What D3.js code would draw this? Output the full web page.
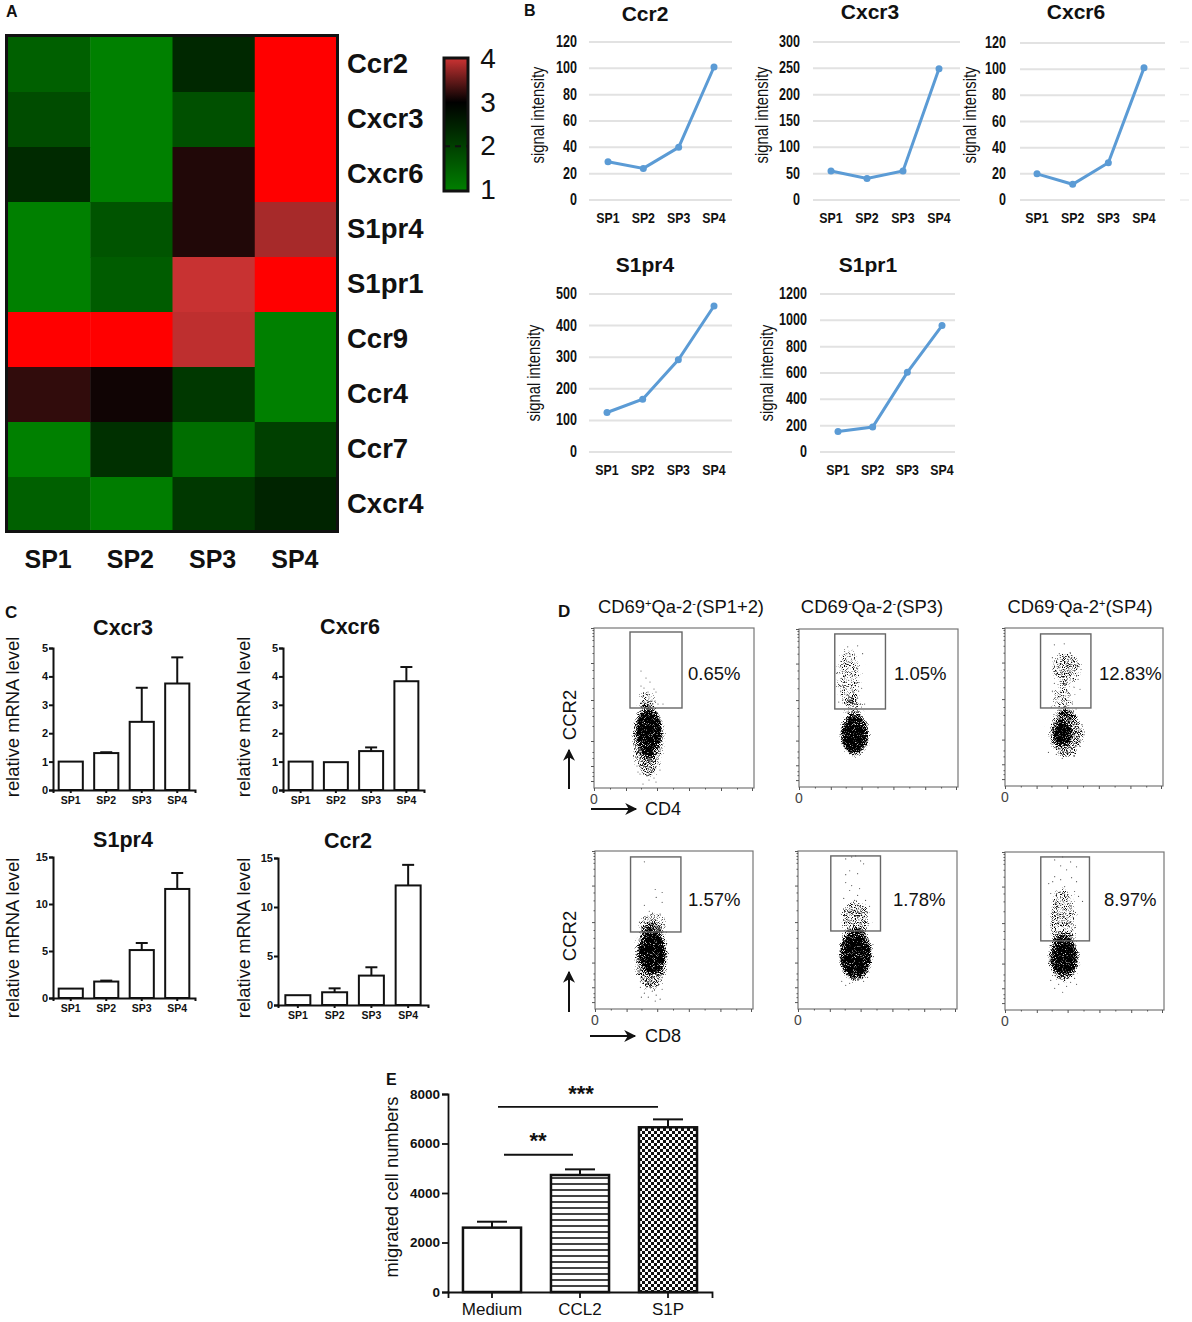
<!DOCTYPE html>
<html>
<head>
<meta charset="utf-8">
<script src="https://cdn.jsdelivr.net/npm/d3@7"></script>
<style>
  html, body { margin: 0; padding: 0; background: #fff; }
  text { font-family: "Liberation Sans", Arial, sans-serif; fill: #111; }
</style>
</head>
<body>
<svg id="fig" width="1192" height="1322"></svg>
<script>
var stages = ["SP1", "SP2", "SP3", "SP4"]

// A: heatmap, legend units, 5 = off the scale (pure red)
var heatGenes = ["Ccr2", "Cxcr3", "Cxcr6", "S1pr4", "S1pr1", "Ccr9", "Ccr4", "Ccr7", "Cxcr4"]
var heatCcr2 = [1.5, 1, 2.38, 5]
var heatCxcr3 = [1.81, 1, 1.75, 5]
var heatCxcr6 = [2.34, 1, 3.16, 5]
var heatS1pr4 = [1, 1.69, 3.16, 3.82]
var heatS1pr1 = [1, 1.56, 3.98, 5]
var heatCcr9 = [5, 5, 3.93, 1]
var heatCcr4 = [3.24, 3.08, 2.13, 1]
var heatCcr7 = [1, 2.25, 1.28, 2]
var heatCxcr4 = [1.5, 1.05, 2.13, 2.44]
var heatRows = [heatCcr2, heatCxcr3, heatCxcr6, heatS1pr4, heatS1pr1, heatCcr9, heatCcr4, heatCcr7, heatCxcr4]
var legendTicks = [1, 2, 3, 4]

// B: signal intensity
var signalCcr2 = [29, 24, 40, 101]
var signalCxcr3 = [55, 41, 55, 249]
var signalCxcr6 = [20, 12, 28.5, 101]
var signalS1pr4 = [125, 167, 292, 462]
var signalS1pr1 = [155, 190, 605, 960]
var ticks120 = [0, 20, 40, 60, 80, 100, 120]
var ticks300 = [0, 50, 100, 150, 200, 250, 300]
var ticks500 = [0, 100, 200, 300, 400, 500]
var ticks1200 = [0, 200, 400, 600, 800, 1000, 1200]

// C: relative mRNA, mean and top of error bar
var qpcrCxcr3 = [1, 1.3, 2.4, 3.75]
var qpcrCxcr3Err = [1, 1.33, 3.6, 4.67]
var qpcrCxcr6 = [1, 0.98, 1.37, 3.83]
var qpcrCxcr6Err = [1, 0.98, 1.5, 4.33]
var qpcrS1pr4 = [1, 1.75, 5.1, 11.6]
var qpcrS1pr4Err = [1, 1.85, 5.85, 13.3]
var qpcrCcr2 = [1, 1.3, 3, 12.2]
var qpcrCcr2Err = [1, 1.7, 3.85, 14.3]

// D: flow plots, axis channels 0-160. clouds = [x, y, rx, ry, density], events = [x, y]
var facsXTicks = [0, 32, 63, 95, 127, 158]
var facsXMinor = [16, 47, 79, 111, 143]
var facsYTicks = [7, 22, 47, 88, 125, 160]
var facsYMinor = [12, 16, 30, 36, 62, 72, 80, 100, 110, 118, 135, 142, 148, 152, 155, 158]
var cloudsP1 = [[54, 48, 16, 38, 0.58], [55, 58, 13, 19, 1], [54, 42, 8, 13, 1], [52, 88, 9, 9, 0.47]]
var cloudsP2 = [[56, 53, 15, 22, 0.75], [56, 53, 13, 16, 1], [55, 80, 9, 12, 0.48], [50, 112, 13, 30, 0.45]]
var cloudsP3 = [[62, 53, 18, 24, 0.58], [58, 53, 9, 13, 1], [62, 119, 15, 16, 0.52], [59, 88, 10, 16, 0.48], [62, 72, 10, 6, 0.5]]
var cloudsP4 = [[57, 53, 17, 34, 0.6], [58, 57, 13, 21, 1], [58, 86, 15, 12, 0.5]]
var cloudsP5 = [[58, 55, 17, 27, 0.82], [58, 52, 14, 18, 1], [58, 62, 14, 10, 1], [58, 92, 15, 18, 0.54]]
var cloudsP6 = [[59, 53, 16, 24, 0.72], [60, 53, 12, 16, 1], [58, 92, 14, 32, 0.5]]
var eventsP1 = [[47, 117], [52, 110], [56, 106], [47, 102], [50, 100], [60, 99], [54, 96], [62, 96], [49, 92], [55, 90], [58, 88], [50, 86], [53, 84], [57, 83], [48, 85], [64, 84], [69, 84], [61, 87], [43, 22], [46, 14], [50, 18], [53, 12], [55, 8], [58, 16], [60, 20], [62, 6], [49, 4], [66, 18], [44, 16], [54, 20], [60, 10]]
var eventsP2 = [[49, 142], [59, 143], [64, 135], [48, 135], [42, 122], [45, 125], [50, 127], [49, 120], [55, 122], [59, 120], [44, 117], [47, 116], [52, 114], [57, 118], [43, 110], [46, 112], [50, 108], [53, 106], [40, 104], [44, 103], [48, 102], [52, 100], [58, 105], [54, 97], [60, 97], [42, 97], [46, 94], [50, 92], [56, 92], [59, 90], [44, 88], [48, 86], [53, 86], [57, 84], [62, 84], [66, 84], [40, 86], [38, 115], [63, 100]]
var eventsP3 = [[50, 143], [60, 144], [66, 135], [48, 130], [55, 134], [64, 128], [72, 122], [77, 118], [74, 108], [50, 104], [56, 106], [62, 104], [70, 100], [76, 98], [48, 96], [66, 92], [68, 84], [72, 78], [47, 80], [62, 30], [70, 30], [58, 28], [52, 32], [63, 38], [76, 44], [80, 52], [78, 62], [44, 34]]
var eventsP4 = [[50, 149], [61, 121], [68, 118], [62, 113], [68, 108], [50, 105], [55, 99], [66, 96], [45, 88], [72, 78], [46, 22], [50, 16], [54, 12], [58, 18], [62, 14], [66, 10], [68, 20], [47, 12], [61, 8], [56, 22], [64, 24], [46, 28]]
var eventsP5 = [[48, 152], [54, 154], [58, 155], [63, 150], [52, 140], [48, 136], [60, 137], [66, 147], [48, 128], [54, 125], [60, 115], [52, 120], [62, 122], [46, 112], [57, 110], [68, 110], [52, 102], [62, 104], [72, 104], [44, 28], [52, 26], [60, 30], [66, 28], [70, 32], [48, 24]]
var eventsP6 = [[50, 152], [58, 155], [66, 150], [72, 145], [56, 146], [62, 142], [50, 135], [67, 134], [72, 130], [48, 130], [56, 132], [44, 128], [60, 125], [70, 120], [74, 115], [52, 118], [46, 118], [78, 110], [50, 22], [54, 26], [58, 18], [62, 24], [66, 28], [46, 30], [70, 32], [72, 26]]

// E: migration assay
var assayGroups = ["Medium", "CCL2", "S1P"]
var assayMeans = [2600, 4727, 6655]
var assayErrTops = [2840, 4955, 6975]
var assayTicks = [0, 2000, 4000, 6000, 8000]
var assaySigLevels = [7480, 5545]

var svg = d3.select("#fig")
var defs = svg.append("defs")

// fine grain used for the flow cytometry clouds
var stip = defs.append("filter").attr("id", "stipple")
    .attr("filterUnits", "userSpaceOnUse")
    .attr("x", 0).attr("y", 0).attr("width", 1192).attr("height", 1322)
    .attr("color-interpolation-filters", "sRGB")
stip.append("feGaussianBlur").attr("in", "SourceAlpha").attr("stdDeviation", 2.2).attr("result", "d")
stip.append("feTurbulence").attr("type", "fractalNoise").attr("baseFrequency", 1.1)
    .attr("numOctaves", 1).attr("seed", 7).attr("result", "t")
stip.append("feColorMatrix").attr("in", "t").attr("type", "matrix")
    .attr("values", "0 0 0 0 0  0 0 0 0 0  0 0 0 0 0  1.8 0 0 0 -0.4").attr("result", "n")
stip.append("feComposite").attr("in", "d").attr("in2", "n").attr("operator", "arithmetic")
    .attr("k1", 0).attr("k2", 1).attr("k3", 1).attr("k4", -1).attr("result", "s")
stip.append("feComponentTransfer").attr("in", "s").attr("result", "c")
    .append("feFuncA").attr("type", "linear").attr("slope", 3)
stip.append("feGaussianBlur").attr("in", "c").attr("stdDeviation", 0.35)

var stripes = defs.append("pattern").attr("id", "stripes").attr("patternUnits", "userSpaceOnUse")
    .attr("width", 6).attr("height", 6)
stripes.append("rect").attr("width", 6).attr("height", 6).attr("fill", "#fff")
stripes.append("rect").attr("y", 1).attr("width", 6).attr("height", 2).attr("fill", "#444")

var checks = defs.append("pattern").attr("id", "checks").attr("patternUnits", "userSpaceOnUse")
    .attr("width", 6).attr("height", 6)
checks.append("rect").attr("width", 6).attr("height", 6).attr("fill", "#111")
checks.append("rect").attr("width", 3).attr("height", 3).attr("fill", "#fff")
checks.append("rect").attr("x", 3).attr("y", 3).attr("width", 3).attr("height", 3).attr("fill", "#fff")

defs.append("marker").attr("id", "head").attr("viewBox", "0 0 10 10")
    .attr("refX", 9).attr("refY", 5).attr("markerWidth", 7).attr("markerHeight", 6)
    .attr("markerUnits", "strokeWidth").attr("orient", "auto")
  .append("path").attr("d", "M0,0L10,5L0,10L3,5Z").attr("fill", "#111")

function label(x, y, txt, size, weight, anchor) {
    return svg.append("text").attr("x", x).attr("y", y).text(txt)
        .style("font-size", size + "px").style("font-weight", weight || "normal")
        .attr("text-anchor", anchor || "middle")
}

function rotated(x, y, txt, size) {
    return svg.append("text").attr("transform", "translate(" + x + "," + y + ") rotate(-90)")
        .attr("text-anchor", "middle")
        .style("font-size", size + "px").text(txt)
}

// panel B text is horizontally condensed in the figure
function squeeze(sel, k) {
    sel.each(function() {
        d3.select(this).attr("textLength", this.getComputedTextLength() * k)
            .attr("lengthAdjust", "spacingAndGlyphs")
    })
    return sel
}

// panel letters
label(6, 17, "A", 16, "bold", "start")
label(524, 16, "B", 16, "bold", "start")
label(5, 618, "C", 17, "bold", "start")
label(558, 617, "D", 17, "bold", "start")
label(386, 1085, "E", 16, "bold", "start")

// ---- A
var heatX = d3.scaleBand().domain(stages).range([8, 337])
var heatY = d3.scaleBand().domain(heatGenes).range([37, 532])
var heatColor = d3.scaleLinear().domain([1, 3, 4, 4.01])
    .range(["#008000", "#000000", "#cc3333", "#ff0000"]).clamp(true)

heatRows.forEach(function(row, i) {
    svg.append("g").selectAll("rect").data(row).enter().append("rect")
        .attr("x", function(d, j) { return heatX(stages[j]) })
        .attr("y", heatY(heatGenes[i]))
        .attr("width", heatX.bandwidth() + 0.5)
        .attr("height", heatY.bandwidth() + 0.5)
        .attr("fill", function(d) { return heatColor(d) })
})
svg.append("rect").attr("x", 6.5).attr("y", 35.5).attr("width", 331).attr("height", 496)
    .attr("fill", "none").attr("stroke", "#111").attr("stroke-width", 3)

heatGenes.forEach(function(g) {
    label(347, heatY(g) + heatY.bandwidth() / 2 + 8.5, g, 27.5, "bold", "start")
})
stages.forEach(function(s) {
    label(heatX(s) + heatX.bandwidth() / 2 - 1, 568, s, 25, "bold")
})

var legendY = d3.scaleLinear().domain([1, 4]).range([190, 59])
var legendGrad = defs.append("linearGradient").attr("id", "legendGrad")
    .attr("x1", 0).attr("x2", 0).attr("y1", 1).attr("y2", 0)
legendTicks.concat([3.5]).sort().forEach(function(v) {
    legendGrad.append("stop").attr("offset", (v - 1) / 3).attr("stop-color", heatColor(v))
})
svg.append("rect").attr("x", 444).attr("y", legendY(4) - 1).attr("width", 24).attr("height", legendY(1) - legendY(4) + 2)
    .attr("fill", "url(#legendGrad)").attr("stroke", "#111").attr("stroke-width", 3)
svg.append("line").attr("x1", 444).attr("x2", 468).attr("y1", legendY(2)).attr("y2", legendY(2))
    .attr("stroke", "#111").attr("stroke-width", 2).attr("stroke-dasharray", "6,5")
legendTicks.forEach(function(t) {
    label(488, legendY(t) + 9, t, 28)
})

// ---- B
function linePanel(opt) {
    var x = d3.scalePoint().domain(stages).range(opt.xs)
    var y = d3.scaleLinear().domain([0, d3.max(opt.ticks)]).range(opt.ys)
    var g = svg.append("g")
    g.selectAll("line").data(opt.ticks).enter().append("line")
        .attr("x1", opt.grid[0]).attr("x2", opt.grid[1])
        .attr("y1", function(d) { return y(d) }).attr("y2", function(d) { return y(d) })
        .attr("stroke", "#e2e2e2").attr("stroke-width", 2)
    var tl = g.selectAll("text.t").data(opt.ticks).enter().append("text")
        .attr("x", opt.tickX).attr("y", function(d) { return y(d) + 5 })
        .attr("text-anchor", "end").style("font-size", "16.5px").style("font-weight", "bold")
        .text(function(d) { return d })
    squeeze(tl, 0.76)
    var line = d3.line().x(function(d, i) { return x(stages[i]) }).y(function(d) { return y(d) })
    g.append("path").attr("d", line(opt.values)).attr("fill", "none")
        .attr("stroke", "#5b9bd5").attr("stroke-width", 3)
    g.selectAll("circle").data(opt.values).enter().append("circle")
        .attr("cx", function(d, i) { return x(stages[i]) }).attr("cy", function(d) { return y(d) })
        .attr("r", 3.5).attr("fill", "#5b9bd5")
    stages.forEach(function(s) {
        squeeze(label(x(s), opt.ys[0] + 23, s, 14, "bold"), 0.88)
    })
    label(opt.titleX, opt.titleY, opt.title, 21, "bold")
    squeeze(rotated(opt.labelX, opt.labelY, "signal intensity", 18), 0.82)
}

linePanel({ title: "Ccr2", values: signalCcr2, ticks: ticks120, xs: [608, 714], ys: [200, 42], grid: [589, 732], tickX: 577, titleX: 645, titleY: 21, labelX: 544, labelY: 115 })
linePanel({ title: "Cxcr3", values: signalCxcr3, ticks: ticks300, xs: [831, 939], ys: [200, 42], grid: [813, 960], tickX: 800, titleX: 870, titleY: 19, labelX: 768, labelY: 115 })
linePanel({ title: "Cxcr6", values: signalCxcr6, ticks: ticks120, xs: [1037, 1144], ys: [200, 43], grid: [1020, 1165], tickX: 1006, titleX: 1076, titleY: 19, labelX: 976, labelY: 115 })
linePanel({ title: "S1pr4", values: signalS1pr4, ticks: ticks500, xs: [607, 714], ys: [452, 294], grid: [589, 732], tickX: 577, titleX: 645, titleY: 272, labelX: 540, labelY: 373 })
linePanel({ title: "S1pr1", values: signalS1pr1, ticks: ticks1200, xs: [838, 942], ys: [452, 294], grid: [820, 955], tickX: 807, titleX: 868, titleY: 272, labelX: 773, labelY: 373 })

// cut off gridlines of the neighbouring figure at the right edge
var stubY = d3.scaleLinear().domain([0, 120]).range([200, 42])
svg.append("g").selectAll("line").data(ticks120).enter().append("line")
    .attr("x1", 1180).attr("x2", 1189)
    .attr("y1", function(d) { return stubY(d) }).attr("y2", function(d) { return stubY(d) })
    .attr("stroke", "#ececec").attr("stroke-width", 1.5)

// ---- C
function barPanel(opt) {
    var x = d3.scaleBand().domain(stages).range(opt.xs).paddingInner(0.32).paddingOuter(opt.outer)
    var y = d3.scaleLinear().domain([0, opt.max]).range(opt.ys)
    var g = svg.append("g")
    var yAxis = d3.axisLeft(y).tickValues(opt.ticks).tickSize(4).tickPadding(1).tickFormat(d3.format("d"))
    g.selectAll("rect").data(opt.values).enter().append("rect")
        .attr("x", function(d, i) { return x(stages[i]) })
        .attr("width", x.bandwidth())
        .attr("y", function(d) { return y(d) })
        .attr("height", function(d) { return y(0) - y(d) })
        .attr("fill", "#fff").attr("stroke", "#111").attr("stroke-width", 2)
    opt.errs.forEach(function(e, i) {
        if (e <= opt.values[i]) return
        var cx = x(stages[i]) + x.bandwidth() / 2
        g.append("line").attr("x1", cx).attr("x2", cx).attr("y1", y(opt.values[i])).attr("y2", y(e))
            .attr("stroke", "#111").attr("stroke-width", 2)
        g.append("line").attr("x1", cx - 6).attr("x2", cx + 6).attr("y1", y(e)).attr("y2", y(e))
            .attr("stroke", "#111").attr("stroke-width", 2)
    })
    var ax = g.append("g").attr("transform", "translate(" + opt.xs[0] + ",0)").call(yAxis)
    ax.selectAll("text").style("font-size", "11px").style("font-weight", "bold")
    ax.selectAll("line,path").attr("stroke", "#111").attr("stroke-width", 2)
    var xAxis = d3.axisBottom(x).tickSize(3).tickPadding(4)
    var bx = g.append("g").attr("transform", "translate(0," + opt.ys[0] + ")").call(xAxis)
    bx.selectAll("text").style("font-size", "10.5px").style("font-weight", "bold")
    bx.selectAll("line,path").attr("stroke", "#111").attr("stroke-width", 2)
    label(opt.titleX, opt.titleY, opt.title, 21.5, "bold")
    rotated(opt.labelX, opt.labelY, "relative mRNA level", 18.4)
}

barPanel({ title: "Cxcr3", values: qpcrCxcr3, errs: qpcrCxcr3Err, max: 5, ticks: [0, 1, 2, 3, 4, 5], xs: [53, 195], outer: 0.16, ys: [790, 648], titleX: 123, titleY: 635, labelX: 19, labelY: 717 })
barPanel({ title: "Cxcr6", values: qpcrCxcr6, errs: qpcrCxcr6Err, max: 5, ticks: [0, 1, 2, 3, 4, 5], xs: [283, 424], outer: 0.16, ys: [790, 648], titleX: 350, titleY: 634, labelX: 250, labelY: 717 })
barPanel({ title: "S1pr4", values: qpcrS1pr4, errs: qpcrS1pr4Err, max: 15, ticks: [0, 5, 10, 15], xs: [53, 195], outer: 0.16, ys: [998, 857], titleX: 123, titleY: 847, labelX: 19, labelY: 938 })
barPanel({ title: "Ccr2", values: qpcrCcr2, errs: qpcrCcr2Err, max: 15, ticks: [0, 5, 10, 15], xs: [278, 428], outer: 0.2, ys: [1005, 858], titleX: 348, titleY: 848, labelX: 250, labelY: 938 })

// ---- D
function facsPlot(opt) {
    var x = d3.scaleLinear().domain([0, 160]).range([opt.frame[0], opt.frame[1]])
    var y = d3.scaleLinear().domain([0, 160]).range([opt.frame[3], opt.frame[2]])
    var g = svg.append("g")
    g.append("rect").attr("x", opt.frame[0]).attr("y", opt.frame[2])
        .attr("width", opt.frame[1] - opt.frame[0]).attr("height", opt.frame[3] - opt.frame[2])
        .attr("fill", "#fff").attr("stroke", "#777").attr("stroke-width", 1.2)

    var cloud = g.append("g").attr("filter", "url(#stipple)")
    cloud.selectAll("ellipse").data(opt.clouds).enter().append("ellipse")
        .attr("cx", function(d) { return x(d[0]) }).attr("cy", function(d) { return y(d[1]) })
        .attr("rx", function(d) { return d[2] }).attr("ry", function(d) { return d[3] })
        .attr("fill", "#000").attr("fill-opacity", function(d) { return d[4] })
    g.selectAll("circle").data(opt.events).enter().append("circle")
        .attr("cx", function(d) { return x(d[0]) }).attr("cy", function(d) { return y(d[1]) })
        .attr("r", 0.6).attr("fill", "#555")

    var bx = g.append("g").attr("transform", "translate(0," + opt.frame[3] + ")")
        .call(d3.axisBottom(x).tickValues(facsXTicks).tickSize(3).tickFormat(""))
    var bm = g.append("g").attr("transform", "translate(0," + opt.frame[3] + ")")
        .call(d3.axisBottom(x).tickValues(facsXMinor).tickSize(1.5).tickFormat(""))
    var ly = g.append("g").attr("transform", "translate(" + opt.frame[0] + ",0)")
        .call(d3.axisLeft(y).tickValues(facsYTicks).tickSize(3).tickFormat(""))
    var lm = g.append("g").attr("transform", "translate(" + opt.frame[0] + ",0)")
        .call(d3.axisLeft(y).tickValues(facsYMinor).tickSize(1.5).tickFormat(""))
    ;[bx, bm, ly, lm].forEach(function(a) {
        a.select(".domain").remove()
        a.selectAll("line").attr("stroke", "#555")
    })

    g.append("rect").attr("x", x(opt.gate[0])).attr("y", y(opt.gate[3]))
        .attr("width", x(opt.gate[1]) - x(opt.gate[0])).attr("height", y(opt.gate[2]) - y(opt.gate[3]))
        .attr("fill", "none").attr("stroke", "#666").attr("stroke-width", 1.4)

    label(opt.frame[0], opt.frame[3] + 16, "0", 14).style("fill", "#444")
    label(opt.pctX, opt.pctY, opt.pct, 18.5, "normal", "start")
}

facsPlot({ frame: [594, 754, 628, 788], gate: [36, 88, 80, 156], clouds: cloudsP1, events: eventsP1, pct: "0.65%", pctX: 688, pctY: 680 })
facsPlot({ frame: [799, 958, 629, 787], gate: [36, 87, 79, 155], clouds: cloudsP2, events: eventsP2, pct: "1.05%", pctX: 894, pctY: 680 })
facsPlot({ frame: [1005, 1163, 628, 786], gate: [36, 87, 79, 154], clouds: cloudsP3, events: eventsP3, pct: "12.83%", pctX: 1099, pctY: 680 })
facsPlot({ frame: [595, 753, 851, 1009], gate: [36, 87, 78, 154], clouds: cloudsP4, events: eventsP4, pct: "1.57%", pctX: 688, pctY: 906 })
facsPlot({ frame: [798, 957, 851, 1009], gate: [33, 83, 79, 155], clouds: cloudsP5, events: eventsP5, pct: "1.78%", pctX: 893, pctY: 906 })
facsPlot({ frame: [1005, 1164, 852, 1010], gate: [36, 85, 70, 155], clouds: cloudsP6, events: eventsP6, pct: "8.97%", pctX: 1104, pctY: 906 })

function facsTitle(cx, parts) {
    var t = svg.append("text").attr("x", cx).attr("y", 613).attr("text-anchor", "middle").style("font-size", "18.4px")
    parts.forEach(function(p) {
        var s = t.append("tspan").text(p[0])
        if (p[1]) s.attr("dy", -6).style("font-size", "11px")
        else s.attr("dy", p[2] ? 6 : 0)
    })
}
facsTitle(681, [["CD69"], ["+", true], ["Qa-2", false, true], ["-", true], ["(SP1+2)", false, true]])
facsTitle(872, [["CD69"], ["-", true], ["Qa-2", false, true], ["-", true], ["(SP3)", false, true]])
facsTitle(1080, [["CD69"], ["-", true], ["Qa-2", false, true], ["+", true], ["(SP4)", false, true]])

function arrow(x1, y1, x2, y2) {
    svg.append("line").attr("x1", x1).attr("y1", y1).attr("x2", x2).attr("y2", y2)
        .attr("stroke", "#111").attr("stroke-width", 2).attr("marker-end", "url(#head)")
}
rotated(576, 715, "CCR2", 18.5)
arrow(569, 789, 569, 750)
arrow(591, 809, 636, 809)
label(645, 815, "CD4", 18, "normal", "start")
rotated(576, 936, "CCR2", 18.5)
arrow(569, 1012, 569, 972)
arrow(590, 1036, 635, 1036)
label(645, 1042, "CD8", 18, "normal", "start")

// ---- E
var assayX = d3.scaleBand().domain(assayGroups).range([448, 712]).paddingInner(0.34).paddingOuter(0.17)
var assayY = d3.scaleLinear().domain([0, 8000]).range([1292, 1094])
var assayFills = ["#fff", "url(#stripes)", "url(#checks)"]
var eg = svg.append("g")
eg.selectAll("rect").data(assayMeans).enter().append("rect")
    .attr("x", function(d, i) { return assayX(assayGroups[i]) })
    .attr("width", assayX.bandwidth())
    .attr("y", function(d) { return assayY(d) })
    .attr("height", function(d) { return assayY(0) - assayY(d) })
    .attr("fill", function(d, i) { return assayFills[i] })
    .attr("stroke", "#111").attr("stroke-width", 2.5)
assayErrTops.forEach(function(e, i) {
    var cx = assayX(assayGroups[i]) + assayX.bandwidth() / 2
    eg.append("line").attr("x1", cx).attr("x2", cx).attr("y1", assayY(assayMeans[i])).attr("y2", assayY(e))
        .attr("stroke", "#111").attr("stroke-width", 2)
    eg.append("line").attr("x1", cx - 15).attr("x2", cx + 15).attr("y1", assayY(e)).attr("y2", assayY(e))
        .attr("stroke", "#111").attr("stroke-width", 2)
})
var ay = eg.append("g").attr("transform", "translate(448,0)")
    .call(d3.axisLeft(assayY).tickValues(assayTicks).tickSize(6).tickPadding(2).tickFormat(d3.format("d")))
ay.selectAll("text").style("font-size", "13.5px").style("font-weight", "bold")
ay.selectAll("line,path").attr("stroke", "#111").attr("stroke-width", 1.8)
var ax = eg.append("g").attr("transform", "translate(0,1292)")
    .call(d3.axisBottom(assayX).tickSize(6).tickPadding(5))
ax.selectAll("text").style("font-size", "17px")
ax.selectAll("line,path").attr("stroke", "#111").attr("stroke-width", 1.8)
rotated(398, 1187, "migrated cell numbers", 18.4)

svg.append("line").attr("x1", 498).attr("x2", 658).attr("y1", assayY(assaySigLevels[0])).attr("y2", assayY(assaySigLevels[0]))
    .attr("stroke", "#111").attr("stroke-width", 1.8)
svg.append("line").attr("x1", 504).attr("x2", 573).attr("y1", assayY(assaySigLevels[1])).attr("y2", assayY(assaySigLevels[1]))
    .attr("stroke", "#111").attr("stroke-width", 1.8)
label(581, 1101, "***", 22, "bold")
label(538, 1148, "**", 22, "bold")
</script>
</body>
</html>
